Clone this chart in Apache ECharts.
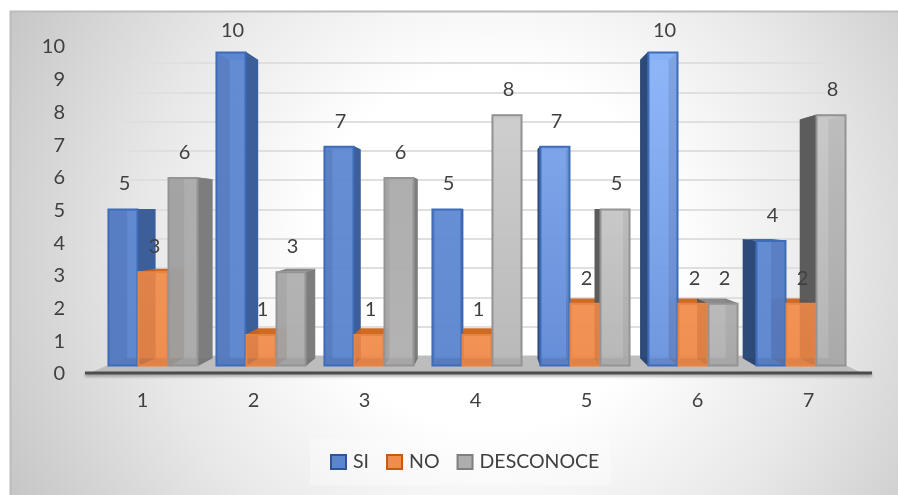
<!DOCTYPE html>
<html>
<head>
<meta charset="utf-8">
<style>
  html, body { margin: 0; padding: 0; background: #fff; }
  #chart { width: 898px; height: 495px; }
</style>
<script src="https://cdn.jsdelivr.net/npm/echarts@6/dist/echarts.min.js"></script>
</head>
<body>
<div id="chart"></div>
<script>
const categories = ['1', '2', '3', '4', '5', '6', '7'];
const siValues = [5, 10, 7, 5, 7, 10, 4];
const noValues = [3, 1, 1, 1, 2, 2, 2];
const desconoceValues = [6, 3, 6, 8, 5, 2, 8];
const yTicks = [0, 1, 2, 3, 4, 5, 6, 7, 8, 9, 10];

const FONT = 'Lato, "Open Sans", sans-serif';
const TEXT = '#404040';
const FONT_SIZE = 20;

// Perspective of the box: bars sit a little behind the front plane,
// the wall further back, both receding towards one vanishing point.
const BAR_VP = [490, 210];
const BAR_DEPTH = 0.05;
const WALL_VP = [500, 201];
const WALL_DEPTH = 0.104;

const recede = (p, vp, k) => [p[0] + (vp[0] - p[0]) * k, p[1] + (vp[1] - p[1]) * k];

// Lighting differs across the box, so each group has its own face tones.
const skins = [
  {
    name: 'SI', values: siValues, swatch: '#5b85cf', swatchBorder: '#2f5597',
    border: '#3f6cb8', top: '#3f6cb8', sideR: '#3c5f99', sideL: '#2e4a78',
    inner: 'rgba(30,50,90,0.13)',
    faces: [['#5c86d0', '#5a84cd'], ['#5e88d2', '#5a84cd'], ['#5f89d3', '#5a84cd'],
            ['#608ad4', '#5b85cf'], ['#79a1e8', '#6089d6'], ['#8ab4f8', '#6a93dd'], ['#5e88d2', '#5b85cf']]
  },
  {
    name: 'NO', values: noValues, swatch: '#f08c4e', swatchBorder: '#c55a11',
    border: '#e88340', top: '#cf6a24', sideR: '#c96a28', sideL: '#b05a20',
    inner: 'rgba(120,50,10,0.1)',
    faces: Array(7).fill(['#f28f50', '#ef8a4a'])
  },
  {
    name: 'DESCONOCE', values: desconoceValues, swatch: '#adadad', swatchBorder: '#7f7f7f',
    border: '#949494', top: '#8a8a8a', sideR: '#7d7d7d', sideL: '#5c5c5c',
    inner: 'rgba(50,50,50,0.08)',
    faces: [['#ababab', '#a9a9a9'], ['#b0b0b0', '#acacac'], ['#ababab', '#b0b0b0'],
            ['#cccccc', '#b6b6b6'], ['#c6c6c6', '#b4b4b4'], ['#b8b8b8', '#b0b0b0'], ['#c8c8c8', '#b2b2b2']]
  }
];

const poly = (points, fill, z2, extra) => ({
  type: 'polygon', z2, silent: true,
  shape: { points },
  style: Object.assign({ fill, stroke: null }, extra || {})
});

// One prism per value: side and cap first, front face over them, label on top.
function barRenderer(skin, seriesIndex) {
  return function (params, api) {
    const cat = api.value(0);
    const val = api.value(1);
    const band = api.size([1, 0])[0];
    const barW = band * 0.278;
    const centre = api.coord([cat, 0])[0] + (seriesIndex - 1) * barW;
    const base = api.coord([cat, 0])[1];
    const top = api.coord([cat, val])[1];
    const l = centre - barW / 2;
    const r = centre + barW / 2;
    const back = (p) => recede(p, BAR_VP, BAR_DEPTH);

    const fl = [l, top], fr = [r, top], bl = [l, base], br = [r, base];
    const [bfl, bfr, bbl, bbr] = [back(fl), back(fr), back(bl), back(br)];
    const leftOfVp = centre < BAR_VP[0];
    const face = skin.faces[cat];
    const children = [];

    children.push(poly([fl, fr, bfr, bfl], skin.top, 10));
    if (leftOfVp) {
      children.push(poly([fr, bfr, bbr, br], skin.sideR, 10));
    } else {
      children.push(poly([fl, bfl, bbl, bl], skin.sideL, 10));
    }

    // Front face is slightly see-through, as the bars are glassy.
    children.push({
      type: 'rect', z2: 20, silent: true,
      shape: { x: l, y: top, width: barW, height: base - top },
      style: {
        fill: new echarts.graphic.LinearGradient(0, 0, 0, 1, [
          { offset: 0, color: face[0] }, { offset: 1, color: face[1] }
        ]),
        opacity: 0.96
      }
    });

    // Inner wall and floor of the prism, seen through the front face.
    const wallOverlay = leftOfVp ? [fl, bfl, bbl, bl] : [fr, bfr, bbr, br];
    children.push(poly(wallOverlay, skin.inner, 21));
    children.push(poly([bl, br, bbr, bbl], skin.inner, 21));

    children.push({
      type: 'rect', z2: 22, silent: true,
      shape: { x: l + 0.5, y: top + 0.5, width: barW - 1, height: base - top - 1 },
      style: { fill: null, stroke: skin.border, lineWidth: 2 }
    });

    children.push({
      type: 'text', z2: 40, silent: true,
      style: {
        text: String(val),
        x: centre + 1.5,
        y: Math.max(top - 25, 31),
        align: 'center', verticalAlign: 'middle',
        fontSize: FONT_SIZE, fontFamily: FONT, fill: TEXT
      }
    });
    return { type: 'group', children };
  };
}

// Floor and the slanted ends of the gridlines on the left wall.
function renderBox(params, api) {
  const v = api.value(0);
  const band = api.size([1, 0])[0];
  const first = api.coord([0, v]);
  const last = api.coord([categories.length - 1, v]);
  const front = [first[0] - band / 2, first[1]];
  const frontR = [last[0] + band / 2, last[1]];
  const backL = recede(front, WALL_VP, WALL_DEPTH);
  const backR = recede(frontR, WALL_VP, WALL_DEPTH);
  const children = [];
  if (v === 0) {
    children.push(poly([front, backL, backR, frontR], '#bdbdbd', 2));
    children.push({
      type: 'line', z2: 3, silent: true,
      shape: { x1: front[0] - 2, y1: front[1] - 1, x2: frontR[0] + 8, y2: frontR[1] - 1 },
      style: {
        stroke: '#4c4c4c', lineWidth: 3,
        shadowColor: 'rgba(0,0,0,0.35)', shadowBlur: 3, shadowOffsetY: 2
      }
    });
  } else {
    children.push({
      type: 'line', z2: 1, silent: true,
      shape: { x1: front[0], y1: front[1], x2: backL[0], y2: backL[1] },
      style: { stroke: 'rgba(222,222,222,0.3)', lineWidth: 2 }
    });
  }
  return { type: 'group', children };
}

const hiddenX = (gridIndex) => ({
  type: 'category', gridIndex, data: categories, show: false, boundaryGap: true
});
const hiddenY = (gridIndex, splitLine) => ({
  type: 'value', gridIndex, min: 0, max: 10, interval: 1,
  axisLine: { show: false }, axisTick: { show: false }, axisLabel: { show: false },
  splitLine
});

const option = {
  animation: false,
  textStyle: { fontFamily: FONT },
  graphic: [{
    type: 'rect', z: -10, silent: true,
    shape: { x: 10.5, y: 11.5, width: 900, height: 500 },
    style: {
      stroke: '#bcbcbc', lineWidth: 2,
      fill: new echarts.graphic.RadialGradient(490, 250, 560, [
        { offset: 0, color: '#ffffff' },
        { offset: 0.32, color: '#ffffff' },
        { offset: 0.62, color: '#e8e8e8' },
        { offset: 1, color: '#c2c2c2' }
      ], true)
    }
  }],
  grid: [
    { left: 87, width: 777, top: 47, height: 327 },   // front plane: tick labels and axis line
    { left: 130, width: 696, top: 63, height: 293 },  // back wall: gridlines
    { left: 99, width: 756, top: 52, height: 314 }    // plane of the bars
  ],
  xAxis: [
    {
      type: 'category', gridIndex: 0, data: categories,
      axisTick: { show: false },
      axisLine: { show: false },
      axisLabel: { color: TEXT, fontSize: FONT_SIZE, fontFamily: FONT, margin: 17 }
    },
    hiddenX(1),
    hiddenX(2)
  ],
  yAxis: [
    {
      type: 'value', gridIndex: 0, min: 0, max: 10, interval: 1,
      axisLine: { show: false }, axisTick: { show: false }, splitLine: { show: false },
      axisLabel: { color: TEXT, fontSize: FONT_SIZE, fontFamily: FONT, margin: 22 }
    },
    hiddenY(1, { show: true, lineStyle: { color: '#dfdfdf', width: 2 } }),
    hiddenY(2, { show: false })
  ],
  legend: {
    left: 310, top: 439,
    padding: [13, 12, 13, 20],
    backgroundColor: 'rgba(255,255,255,0.3)',
    itemWidth: 15, itemHeight: 14, itemGap: 17,
    textStyle: { color: TEXT, fontSize: 19.5, fontFamily: FONT, padding: [0, 0, 0, 2] },
    data: skins.map((s) => ({
      name: s.name, icon: 'rect',
      itemStyle: { color: s.swatch, borderColor: s.swatchBorder, borderWidth: 2 }
    }))
  },
  series: [
    {
      type: 'custom', name: 'box', xAxisIndex: 0, yAxisIndex: 0, z: 1, clip: false,
      silent: true, renderItem: renderBox, data: yTicks.map((t) => [t])
    }
  ].concat(skins.map((s, i) => ({
    type: 'custom', name: s.name, xAxisIndex: 2, yAxisIndex: 2, z: 2, clip: false,
    silent: true, renderItem: barRenderer(s, i), encode: { x: 0, y: 1 },
    itemStyle: { color: s.swatch },
    data: s.values.map((v, c) => [c, v])
  })))
};

echarts.init(document.getElementById('chart'), null, { renderer: 'canvas' }).setOption(option);
</script>
</body>
</html>
